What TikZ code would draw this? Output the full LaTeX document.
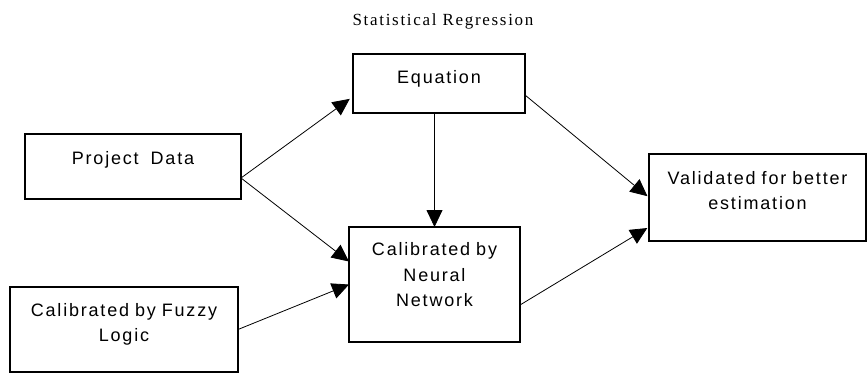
\documentclass[tikz,border=0pt]{standalone}
\usepackage{fontspec}
\setmainfont{Liberation Sans}[LetterSpace=10]
\newfontfamily\titlefont{Liberation Serif}[LetterSpace=10]
\usepackage{tikz}
\usetikzlibrary{arrows.meta,positioning}
\tikzset{
  box/.style = {rectangle, draw, line width=1.3pt, align=center, inner sep=0pt, outer sep=0pt,
    font=\fontsize{18}{25.5}\selectfont, execute at end node={\par\vspace*{#1}}},
  box/.default = 14pt,
  heading/.style = {inner sep=0pt, font=\titlefont\fontsize{17}{20}\selectfont},
  arrow/.style = {line width=0.8pt, -{Triangle[length=17pt,width=16pt]}}
}
\begin{document}
\begin{tikzpicture}
\useasboundingbox (0,0) rectangle (867pt,373pt);

\node[box=14pt, minimum width=216pt, minimum height=65pt, text width=206pt] (data) at (133pt,206.5pt) {Project\ \ Data};
\node[box=9pt, minimum width=172pt, minimum height=59pt, text width=162pt, above right=21pt and 112pt of data] (eq) {Equation};
\node[box=19pt, minimum width=171pt, minimum height=115pt, text width=161pt, below=114pt of eq, xshift=-4.5pt] (nn) {Calibrated by\\ Neural\\ Network};
\node[box=10pt, minimum width=228pt, minimum height=85pt, text width=218pt, below=88pt of data, xshift=-9pt] (fuzzy) {Calibrated by Fuzzy\\ Logic};
\node[box=14pt, minimum width=217pt, minimum height=87pt, text width=207pt, below right=41pt and 124pt of eq] (valid) {Validated for better\\ estimation};

\node[heading, above=25pt of eq, xshift=4pt] (title) {Statistical Regression};

\draw[arrow, shorten >=4pt] ([yshift=-11.5pt]data.east) -- ([yshift=-13pt]eq.west);
\draw[arrow] ([yshift=-11.5pt]data.east) -- ([yshift=23pt]nn.west);
\draw[arrow] (fuzzy.east) -- (nn.west);
\draw[arrow] (eq.south -| nn.north) -- (nn.north);
\draw[arrow, shorten >=2pt] ([yshift=-11.5pt]eq.east) -- (valid.west);
\draw[arrow, shorten >=2pt] ([yshift=-20.5pt]nn.east) -- ([yshift=14pt]valid.south west);

\end{tikzpicture}
\end{document}
